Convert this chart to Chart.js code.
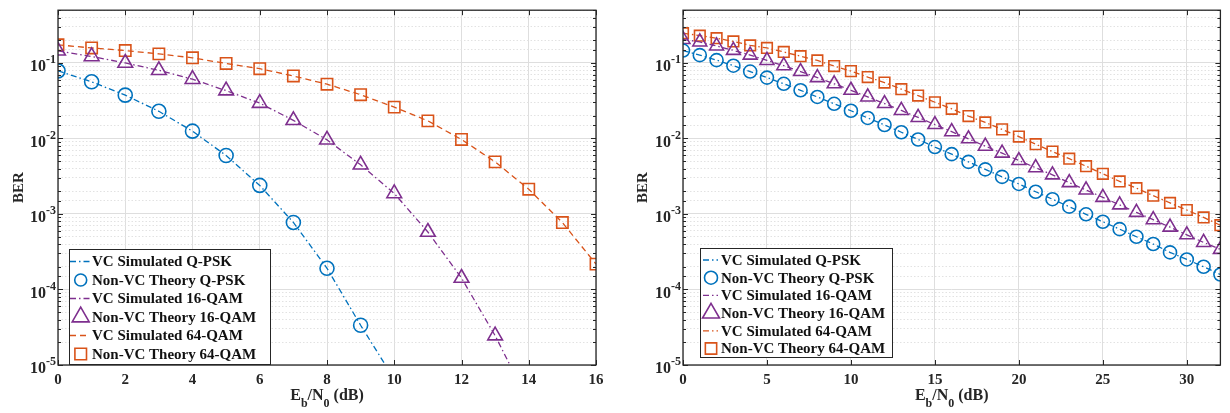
<!DOCTYPE html>
<html>
<head>
<meta charset="utf-8">
<title>BER vs Eb/N0</title>
<script src="https://cdn.jsdelivr.net/npm/chart.js@4.4.1/dist/chart.umd.min.js"></script>
<style>
  body { margin: 0; background: #fff; }
  .wrap { display: flex; width: 1230px; height: 413px; }
  .panel { position: relative; width: 615px; height: 413px; }
</style>
</head>
<body>
<div class="wrap">
  <div class="panel"><canvas id="berAwgn"></canvas></div>
  <div class="panel"><canvas id="berFading"></canvas></div>
</div>
<script>
// ---- left panel: AWGN, 0..16 dB ----
const snrAwgn = [0, 1, 2, 3, 4, 5, 6, 7, 8, 9, 10, 11, 12, 13, 14, 15, 16];
const qpskAwgnTheory = [0.0786, 0.0563, 0.0375, 0.0229, 0.0125, 0.00595, 0.00239, 0.000773, 0.000191, 0.0000336];
const qpskAwgnSim = [0.0786, 0.0563, 0.0375, 0.0229, 0.0125, 0.00595, 0.00239, 0.000773, 0.000191, 0.0000336, 0.0000065];
const qam16AwgnTheory = [0.145, 0.122, 0.100, 0.080, 0.061, 0.043, 0.0294, 0.0174, 0.0096, 0.00448, 0.00187, 0.000577, 0.000142, 0.0000245];
const qam16AwgnSim = [0.145, 0.122, 0.100, 0.080, 0.061, 0.043, 0.0294, 0.0174, 0.0096, 0.00448, 0.00187, 0.000577, 0.000142, 0.0000245, 0.0000032];
const qam64AwgnTheory = [0.174, 0.158, 0.146, 0.132, 0.117, 0.0985, 0.084, 0.0673, 0.0524, 0.038, 0.026, 0.0171, 0.0097, 0.0049, 0.00213, 0.00077, 0.000217];
const qam64AwgnSim = [0.174, 0.158, 0.146, 0.132, 0.117, 0.0985, 0.084, 0.0673, 0.0524, 0.038, 0.026, 0.0171, 0.0097, 0.0049, 0.00213, 0.00077, 0.000217];

// ---- right panel: fading, 0..32 dB ----
const snrFading = [0, 1, 2, 3, 4, 5, 6, 7, 8, 9, 10, 11, 12, 13, 14, 15, 16, 17, 18, 19, 20, 21, 22, 23, 24, 25, 26, 27, 28, 29, 30, 31, 32];
const qpskFading = [0.146, 0.127, 0.109, 0.092, 0.077, 0.064, 0.053, 0.0435, 0.0355, 0.0288, 0.0233, 0.0187, 0.0151, 0.0121, 0.0097, 0.0077, 0.0062, 0.0049, 0.0039, 0.0031, 0.0025, 0.00197, 0.00157, 0.00125, 0.00099, 0.00079, 0.00063, 0.0005, 0.0004, 0.00031, 0.00025, 0.0002, 0.000158];
const qam16Fading = [0.205, 0.19, 0.168, 0.147, 0.127, 0.108, 0.092, 0.077, 0.064, 0.053, 0.0435, 0.0355, 0.029, 0.0235, 0.019, 0.0153, 0.0123, 0.0099, 0.0079, 0.0064, 0.0051, 0.0041, 0.0033, 0.0026, 0.00208, 0.00166, 0.00132, 0.00105, 0.00084, 0.00067, 0.00053, 0.00042, 0.00034];
const qam64Fading = [0.248, 0.23, 0.213, 0.193, 0.171, 0.158, 0.14, 0.123, 0.108, 0.091, 0.078, 0.065, 0.055, 0.045, 0.037, 0.0302, 0.0247, 0.0198, 0.0163, 0.0132, 0.0106, 0.0084, 0.0067, 0.0054, 0.0043, 0.0034, 0.0027, 0.0022, 0.00175, 0.0014, 0.00113, 0.0009, 0.00071];

const berTicks = { min: 1e-5, max: 0.5 };

const BLUE = '#0072BD', ORANGE = '#D95319', PURPLE = '#7E2F8E';
const INK = '#262626';
const SERIF = '"Liberation Serif", "Times New Roman", serif';
const DASHDOT = [6, 3, 1.5, 3];
const DASHED = [6, 4];

function isDecade(v) {
  const e = Math.log10(v);
  return Math.abs(e - Math.round(e)) < 1e-9;
}

function pairs(xs, ys) {
  return ys.map((v, i) => ({ x: xs[i], y: v }));
}

function simLine(label, xs, ys, color, dash) {
  return {
    label, data: pairs(xs, ys), borderColor: color, borderWidth: 1.3,
    borderDash: dash, pointRadius: 0, fill: false, tension: 0
  };
}

function theoryMarks(label, xs, ys, color, style, r) {
  return {
    label, data: pairs(xs, ys), showLine: false, borderColor: color,
    pointStyle: style, pointRadius: r, pointBorderColor: color,
    pointBackgroundColor: 'rgba(0,0,0,0)', pointBorderWidth: 1.6
  };
}

// marker shapes, same geometry as chart.js point styles
function drawMarker(ctx, style, x, y, r) {
  ctx.beginPath();
  if (style === 'circle') {
    ctx.arc(x, y, r, 0, Math.PI * 2);
  } else if (style === 'triangle') {
    let a = 0;
    ctx.moveTo(x + Math.sin(a) * r, y - Math.cos(a) * r);
    a += Math.PI * 2 / 3;
    ctx.lineTo(x + Math.sin(a) * r, y - Math.cos(a) * r);
    a += Math.PI * 2 / 3;
    ctx.lineTo(x + Math.sin(a) * r, y - Math.cos(a) * r);
    ctx.closePath();
  } else {
    const s = r * Math.SQRT1_2;
    ctx.rect(x - s, y - s, 2 * s, 2 * s);
  }
  ctx.stroke();
}

// box, inward ticks, 10^n labels and axis titles
const berAxes = {
  id: 'berAxes',
  afterDatasetsDraw(chart, args, o) {
    const { ctx, chartArea: a } = chart;
    const xs = chart.scales.x, ys = chart.scales.y;
    ctx.save();
    ctx.strokeStyle = INK;
    ctx.lineWidth = 1;
    ctx.beginPath();
    xs.ticks.forEach(t => {
      const px = Math.round(xs.getPixelForValue(t.value)) + 0.5;
      ctx.moveTo(px, a.bottom); ctx.lineTo(px, a.bottom - 5);
      ctx.moveTo(px, a.top); ctx.lineTo(px, a.top + 5);
    });
    ys.ticks.forEach(t => {
      const len = isDecade(t.value) ? 5 : 3;
      const py = Math.round(ys.getPixelForValue(t.value)) + 0.5;
      ctx.moveTo(a.left, py); ctx.lineTo(a.left + len, py);
      ctx.moveTo(a.right, py); ctx.lineTo(a.right - len, py);
    });
    ctx.stroke();
    ctx.lineWidth = 1.3;
    ctx.strokeRect(a.left, a.top, a.right - a.left, a.bottom - a.top);

    // decade labels as 10 with a raised exponent
    ctx.fillStyle = INK;
    ctx.textBaseline = 'middle';
    ctx.textAlign = 'right';
    ys.ticks.filter(t => isDecade(t.value)).forEach(t => {
      const py = ys.getPixelForValue(t.value);
      const exp = String(Math.round(Math.log10(t.value)));
      ctx.font = 'bold 12px ' + SERIF;
      const ew = ctx.measureText(exp).width;
      ctx.fillText(exp, a.left - 2, py - 3);
      ctx.font = 'bold 16px ' + SERIF;
      ctx.fillText('10', a.left - 2 - ew, py + 4);
    });

    // y title
    ctx.save();
    ctx.translate(o.berX, (a.top + a.bottom) / 2);
    ctx.rotate(-Math.PI / 2);
    ctx.textAlign = 'center';
    ctx.font = 'bold 15px ' + SERIF;
    ctx.fillText('BER', 0, 0);
    ctx.restore();

    // x title: E_b/N_0 (dB)
    const parts = [['E', 0], ['b', 1], ['/N', 0], ['0', 1], [' (dB)', 0]];
    const fontOf = sub => sub ? 'bold 12px ' + SERIF : 'bold 16px ' + SERIF;
    let total = 0;
    parts.forEach(([s, sub]) => { ctx.font = fontOf(sub); total += ctx.measureText(s).width; });
    let x = (a.left + a.right) / 2 - total / 2;
    ctx.textAlign = 'left';
    parts.forEach(([s, sub]) => {
      ctx.font = fontOf(sub);
      ctx.fillText(s, x, sub ? o.titleY + 8 : o.titleY);
      x += ctx.measureText(s).width;
    });
    ctx.restore();
  }
};

// legend box inside the plot, bottom left
const boxLegend = {
  id: 'boxLegend',
  afterDraw(chart, args, o) {
    const { ctx } = chart;
    ctx.save();
    ctx.fillStyle = '#fff';
    ctx.fillRect(o.left, o.top, o.width, o.height);
    ctx.strokeStyle = INK;
    ctx.lineWidth = 1;
    ctx.strokeRect(o.left + 0.5, o.top + 0.5, o.width, o.height);
    ctx.font = 'bold 15px ' + SERIF;
    ctx.textBaseline = 'middle';
    ctx.textAlign = 'left';
    chart.data.datasets.forEach((ds, i) => {
      const y = o.top + o.firstRow + i * o.rowH;
      ctx.strokeStyle = ds.borderColor;
      ctx.lineWidth = ds.showLine === false ? 1.6 : 1.3;
      if (ds.showLine === false) {
        ctx.setLineDash([]);
        drawMarker(ctx, ds.pointStyle, o.left + o.markX, y, o.markR[ds.pointStyle]);
      } else {
        ctx.setLineDash(ds.borderDash || []);
        ctx.beginPath();
        ctx.moveTo(o.left + o.symX, y); ctx.lineTo(o.left + o.symX + o.symLen, y);
        ctx.stroke();
      }
      ctx.setLineDash([]);
      ctx.fillStyle = '#111';
      ctx.fillText(ds.label, o.left + o.textX, y + 1);
    });
    ctx.restore();
  }
};

function makeChart(id, cfg) {
  return new Chart(document.getElementById(id), {
    type: 'line',
    data: { datasets: cfg.datasets },
    plugins: [berAxes, boxLegend],
    options: {
      responsive: true,
      maintainAspectRatio: false,
      animation: false,
      devicePixelRatio: 1,
      layout: { padding: { top: 5, right: cfg.padRight, bottom: 0, left: 0 } },
      plugins: {
        legend: { display: false },
        tooltip: { enabled: false },
        berAxes: { berX: cfg.berX, titleY: 396 },
        boxLegend: cfg.legend
      },
      scales: {
        x: {
          type: 'linear', min: 0, max: cfg.xMax,
          afterFit: s => { s.height = 48; },
          ticks: {
            stepSize: cfg.xStep, includeBounds: false, maxRotation: 0, padding: 6,
            color: INK, font: { family: SERIF, weight: 'bold', size: 15 }
          },
          grid: { color: '#dedede', lineWidth: 1, drawTicks: false },
          border: { display: false }
        },
        y: {
          type: 'logarithmic', min: berTicks.min, max: berTicks.max,
          afterFit: s => { s.width = cfg.yWidth; },
          ticks: { autoSkip: false, callback: () => '' },
          grid: {
            drawTicks: false, lineWidth: 1,
            color: c => (c.tick && isDecade(c.tick.value)) ? '#dedede' : '#e2e2e2'
          },
          border: {
            display: false,
            dash: c => (c.tick && !isDecade(c.tick.value)) ? [1.5, 2] : []
          }
        }
      }
    }
  });
}

makeChart('berAwgn', {
  xMax: 16, xStep: 2, yWidth: 58, padRight: 19, berX: 19,
  legend: {
    left: 69, top: 249, width: 201, height: 115, firstRow: 12.5, rowH: 18.5,
    symX: 1, symLen: 20, markX: 11.7, textX: 23,
    markR: { circle: 6, triangle: 9.8, rect: 8.2 }
  },
  datasets: [
    simLine('VC Simulated Q-PSK', snrAwgn, qpskAwgnSim, BLUE, DASHDOT),
    theoryMarks('Non-VC Theory Q-PSK', snrAwgn, qpskAwgnTheory, BLUE, 'circle', 7),
    simLine('VC Simulated 16-QAM', snrAwgn, qam16AwgnSim, PURPLE, DASHDOT),
    theoryMarks('Non-VC Theory 16-QAM', snrAwgn, qam16AwgnTheory, PURPLE, 'triangle', 8.5),
    simLine('VC Simulated 64-QAM', snrAwgn, qam64AwgnSim, ORANGE, DASHED),
    theoryMarks('Non-VC Theory 64-QAM', snrAwgn, qam64AwgnTheory, ORANGE, 'rect', 8)
  ]
});

makeChart('berFading', {
  xMax: 32, xStep: 5, yWidth: 68, padRight: 1, berX: 28,
  legend: {
    left: 85, top: 248, width: 192, height: 109, firstRow: 12, rowH: 17.7,
    symX: 3, symLen: 15, markX: 11, textX: 21,
    markR: { circle: 6.5, triangle: 9.8, rect: 8 }
  },
  datasets: [
    simLine('VC Simulated Q-PSK', snrFading, qpskFading, BLUE, DASHDOT),
    theoryMarks('Non-VC Theory Q-PSK', snrFading, qpskFading, BLUE, 'circle', 6.5),
    simLine('VC Simulated 16-QAM', snrFading, qam16Fading, PURPLE, DASHDOT),
    theoryMarks('Non-VC Theory 16-QAM', snrFading, qam16Fading, PURPLE, 'triangle', 8),
    simLine('VC Simulated 64-QAM', snrFading, qam64Fading, ORANGE, DASHDOT),
    theoryMarks('Non-VC Theory 64-QAM', snrFading, qam64Fading, ORANGE, 'rect', 7.5)
  ]
});
</script>
</body>
</html>
